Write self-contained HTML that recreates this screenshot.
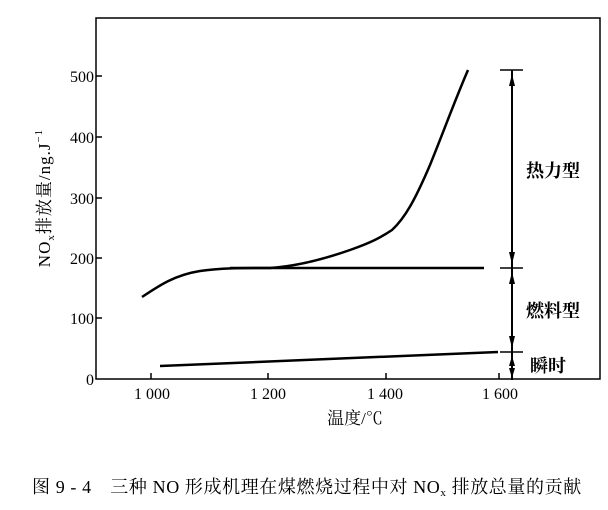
<!DOCTYPE html>
<html><head><meta charset="utf-8"><style>
body{margin:0;background:#fff;}
svg text{font-family:"Liberation Serif","Noto Serif CJK SC",serif;fill:#000;}
</style></head><body>
<svg width="608" height="505" viewBox="0 0 608 505" xmlns="http://www.w3.org/2000/svg">
<rect x="96" y="18" width="504" height="361" fill="none" stroke="#000" stroke-width="1.5"/>
<g stroke="#000" stroke-width="1.5">
<line x1="96" y1="76" x2="102" y2="76"/><line x1="96" y1="137" x2="102" y2="137"/>
<line x1="96" y1="198" x2="102" y2="198"/><line x1="96" y1="258" x2="102" y2="258"/>
<line x1="96" y1="318" x2="102" y2="318"/>
<line x1="151" y1="379" x2="151" y2="373"/><line x1="268" y1="379" x2="268" y2="373"/>
<line x1="386" y1="379" x2="386" y2="373"/><line x1="499" y1="379" x2="499" y2="373"/>
</g>
<g font-size="16" text-anchor="end">
<text x="94" y="82">500</text><text x="94" y="143">400</text><text x="94" y="204">300</text>
<text x="94" y="264">200</text><text x="94" y="324">100</text><text x="94" y="385">0</text>
</g>
<g font-size="16" text-anchor="middle">
<text x="152" y="399">1 000</text><text x="268" y="399">1 200</text>
<text x="385" y="399">1 400</text><text x="500" y="399">1 600</text>
</g>
<text x="355" y="424" font-size="17" text-anchor="middle">温度/℃</text>
<text transform="translate(50,198) rotate(-90)" font-size="17" letter-spacing="1" text-anchor="middle">NO<tspan font-size="11" dy="4">x</tspan><tspan dy="-4">排放量/ng.J</tspan><tspan font-size="11" dy="-8">−1</tspan></text>
<g fill="none" stroke="#000" stroke-width="2.5">
<path d="M142,297 C160,285 175,275 200,271 C220,268 240,268 270,268 C300,266 330,257 350,250 C370,243 380,238 392,230 C405,218 415,200 430,165 C445,128 455,100 468,70"/>
<line x1="230" y1="268" x2="484" y2="268"/>
<line x1="160" y1="366" x2="498" y2="352"/>
</g>
<g stroke="#000" stroke-width="1.5">
<line x1="512" y1="70" x2="512" y2="380" stroke-width="2"/>
<line x1="500" y1="70" x2="523" y2="70"/>
<line x1="500" y1="268" x2="523" y2="268"/>
<line x1="500" y1="352" x2="523" y2="352"/>
</g>
<g fill="#000">
<polygon points="512,74 509,86 515,86"/><polygon points="512,264 509,252 515,252"/>
<polygon points="512,272 509,284 515,284"/><polygon points="512,348 509,336 515,336"/>
<polygon points="512,356 509,366 515,366"/><polygon points="512,378 509,368 515,368"/>
</g>
<g font-size="18" font-weight="bold">
<text x="526" y="177">热力型</text><text x="526" y="317">燃料型</text><text x="530" y="372">瞬时</text>
</g>
<text x="32" y="493" font-size="18" letter-spacing="0.6">图 9 - 4　三种 NO 形成机理在煤燃烧过程中对 NO<tspan font-size="11" dy="3">x</tspan><tspan dy="-3"> 排放总量的贡献</tspan></text>
</svg>
</body></html>
